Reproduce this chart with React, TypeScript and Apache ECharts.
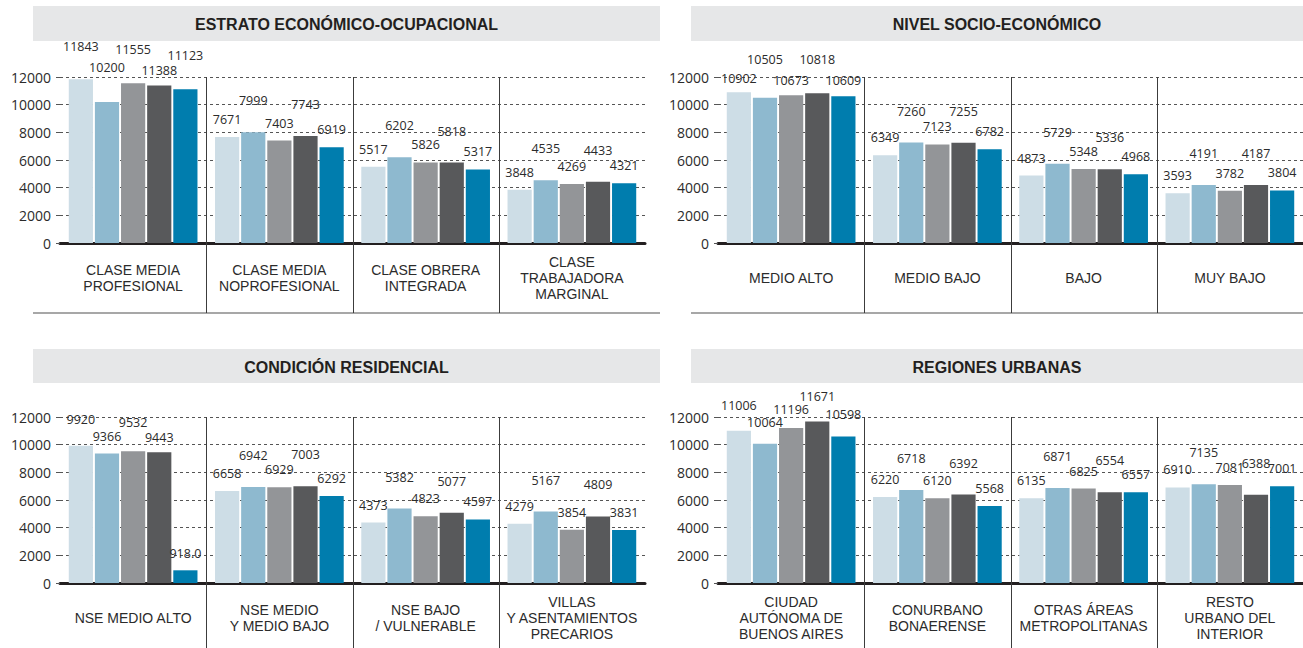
import React, { useEffect, useRef } from "react";
import * as echarts from "echarts";

// ---------- DATA ----------
const Y_TICKS = [0, 2000, 4000, 6000, 8000, 10000, 12000];
const SERIES_COLORS = ["#cddde6", "#8eb9cf", "#939598", "#58595b", "#007dae"];

const P1_TITLE = "ESTRATO ECONÓMICO-OCUPACIONAL";
const P1_CATEGORIES = [
  "CLASE MEDIA\nPROFESIONAL",
  "CLASE MEDIA\nNOPROFESIONAL",
  "CLASE OBRERA\nINTEGRADA",
  "CLASE\nTRABAJADORA\nMARGINAL",
];
const P1_S1 = [11843, 7671, 5517, 3848];
const P1_S2 = [10200, 7999, 6202, 4535];
const P1_S3 = [11555, 7403, 5826, 4269];
const P1_S4 = [11388, 7743, 5818, 4433];
const P1_S5 = [11123, 6919, 5317, 4321];

const P2_TITLE = "NIVEL SOCIO-ECONÓMICO";
const P2_CATEGORIES = ["MEDIO ALTO", "MEDIO BAJO", "BAJO", "MUY BAJO"];
const P2_S1 = [10902, 6349, 4873, 3593];
const P2_S2 = [10505, 7260, 5729, 4191];
const P2_S3 = [10673, 7123, 5348, 3782];
const P2_S4 = [10818, 7255, 5336, 4187];
const P2_S5 = [10609, 6782, 4968, 3804];

const P3_TITLE = "CONDICIÓN RESIDENCIAL";
const P3_CATEGORIES = [
  "NSE MEDIO ALTO",
  "NSE MEDIO\nY MEDIO BAJO",
  "NSE BAJO\n/ VULNERABLE",
  "VILLAS\nY ASENTAMIENTOS\nPRECARIOS",
];
const P3_S1 = [9920, 6658, 4373, 4279];
const P3_S2 = [9366, 6942, 5382, 5167];
const P3_S3 = [9532, 6929, 4823, 3854];
const P3_S4 = [9443, 7003, 5077, 4809];
const P3_S5 = [918, 6292, 4597, 3831];

const P4_TITLE = "REGIONES URBANAS";
const P4_CATEGORIES = [
  "CIUDAD\nAUTÓNOMA DE\nBUENOS AIRES",
  "CONURBANO\nBONAERENSE",
  "OTRAS ÁREAS\nMETROPOLITANAS",
  "RESTO\nURBANO DEL\nINTERIOR",
];
const P4_S1 = [11006, 6220, 6135, 6910];
const P4_S2 = [10064, 6718, 6871, 7135];
const P4_S3 = [11196, 6120, 6825, 7081];
const P4_S4 = [11671, 6392, 6554, 6388];
const P4_S5 = [10598, 5568, 6557, 7001];

const PANELS = [
  { title: P1_TITLE, categories: P1_CATEGORIES, series: [P1_S1, P1_S2, P1_S3, P1_S4, P1_S5] },
  { title: P2_TITLE, categories: P2_CATEGORIES, series: [P2_S1, P2_S2, P2_S3, P2_S4, P2_S5] },
  { title: P3_TITLE, categories: P3_CATEGORIES, series: [P3_S1, P3_S2, P3_S3, P3_S4, P3_S5] },
  { title: P4_TITLE, categories: P4_CATEGORIES, series: [P4_S1, P4_S2, P4_S3, P4_S4, P4_S5] },
];

// ---------- LAYOUT / STYLE ----------
const LAYOUT = [
  { left: 60, top: 77, width: 585, height: 166, barX: 33, barW: 627, barY: 6, barH: 35, bottomLine: 313 },
  { left: 718, top: 77, width: 585, height: 166, barX: 691, barW: 612, barY: 6, barH: 35, bottomLine: 313 },
  { left: 60, top: 417, width: 585, height: 166, barX: 33, barW: 627, barY: 349, barH: 34, bottomLine: null },
  { left: 718, top: 417, width: 585, height: 166, barX: 691, barW: 612, barY: 349, barH: 34, bottomLine: null },
];
// staggered value-label distances (px above the bar) by series position
const LABEL_DIST_DEFAULT = [11, 25, 11, 25, 11];
// the first group of each panel is staggered differently in the reference
const LABEL_DIST_FIRST_GROUP = [
  [26, 28, 27, 8, 27],
  [7, 32, 8, 27, 9],
  [20, 10, 22, 8, 10],
  [19, 15, 12, 19, 15],
];

const NUM_FONT = "'Open Sans', sans-serif";
const CAT_FONT = "'Liberation Sans', Arial, sans-serif";
const TEXT = "#2b2b2b";

function fmtValue(v: number): string {
  return v < 1000 ? v.toFixed(1) : String(v);
}

function buildOption() {
  const grid: any[] = [];
  const xAxis: any[] = [];
  const yAxis: any[] = [];
  const series: any[] = [];
  const graphic: any[] = [];
  const yMax = Y_TICKS[Y_TICKS.length - 1];

  PANELS.forEach((p, i) => {
    const L = LAYOUT[i];
    grid.push({ left: L.left, top: L.top, width: L.width, height: L.height });
    xAxis.push({
      type: "category",
      gridIndex: i,
      data: p.categories,
      axisLine: { show: true, lineStyle: { color: "#231f20", width: 3 } },
      axisTick: { show: false },
      splitLine: { show: false },
      axisLabel: {
        interval: 0,
        color: TEXT,
        fontSize: 14,
        fontFamily: CAT_FONT,
        lineHeight: 16,
        verticalAlign: "middle",
        margin: 35,
      },
    });
    yAxis.push({
      type: "value",
      gridIndex: i,
      min: Y_TICKS[0],
      max: yMax,
      interval: Y_TICKS[1] - Y_TICKS[0],
      axisLine: { show: false },
      axisTick: { show: true, length: 4, lineStyle: { color: "#555" } },
      axisLabel: {
        color: TEXT,
        fontSize: 14,
        fontFamily: NUM_FONT,
        margin: 9,
        formatter: (v: number) => String(v),
      },
      splitLine: { show: true, lineStyle: { color: "#555", type: [3, 3], width: 1 } },
    });
    p.series.forEach((vals, s) => {
      series.push({
        type: "bar",
        xAxisIndex: i,
        yAxisIndex: i,
        data: vals.map((v, c) => ({
          value: v,
          label: { distance: c === 0 ? LABEL_DIST_FIRST_GROUP[i][s] : LABEL_DIST_DEFAULT[s] },
        })),
        barCategoryGap: "12%",
        barGap: "8%",
        itemStyle: { color: SERIES_COLORS[s] },
        label: {
          show: true,
          position: "top",
          color: TEXT,
          fontSize: 12.5,
          fontFamily: NUM_FONT,
          formatter: (pp: any) => fmtValue(pp.value),
        },
        z: 2,
      });
    });
    // category dividers
    series.push({
      type: "custom",
      xAxisIndex: i,
      yAxisIndex: i,
      clip: false,
      silent: true,
      z: 4,
      encode: { x: 0, y: 1 },
      data: p.categories.slice(1).map((c) => [c, 0]),
      renderItem: (params: any, api: any) => {
        const idx = api.value(0);
        const band = api.size([1, 0])[0];
        const top = api.coord([idx, yMax]);
        const zero = api.coord([idx, 0]);
        const x = Math.round(top[0] - band / 2) + 0.5;
        return {
          type: "line",
          shape: { x1: x, y1: top[1], x2: x, y2: zero[1] + 70 },
          style: { stroke: "#3c3c3c", lineWidth: 1 },
        };
      },
    });

    graphic.push({
      type: "rect",
      shape: { x: L.barX, y: L.barY, width: L.barW, height: L.barH },
      style: { fill: "#e6e7e8" },
      silent: true,
    });
    graphic.push({
      type: "text",
      x: L.barX + L.barW / 2,
      y: L.barY + L.barH / 2 + 1,
      style: {
        text: p.title,
        fill: "#231f20",
        font: `bold 16px ${CAT_FONT}`,
        textAlign: "center",
        textVerticalAlign: "middle",
        align: "center",
        verticalAlign: "middle",
      },
      silent: true,
    });
    if (L.bottomLine !== null) {
      graphic.push({
        type: "line",
        shape: { x1: L.barX, y1: L.bottomLine, x2: L.barX + L.barW, y2: L.bottomLine },
        style: { stroke: "#8a8a8a", lineWidth: 1.5 },
        silent: true,
      });
    }
  });

  return {
    animation: false,
    backgroundColor: "#ffffff",
    textStyle: { fontFamily: NUM_FONT },
    grid,
    xAxis,
    yAxis,
    series,
    graphic,
  };
}

export default function App() {
  const ref = useRef<HTMLDivElement>(null);
  useEffect(() => {
    document.body.style.margin = "0";
    const chart = echarts.init(ref.current as HTMLDivElement, null, { renderer: "svg" });
    chart.setOption(buildOption() as any);
    return () => chart.dispose();
  }, []);
  return <div ref={ref} style={{ width: 1303, height: 648 }} />;
}
